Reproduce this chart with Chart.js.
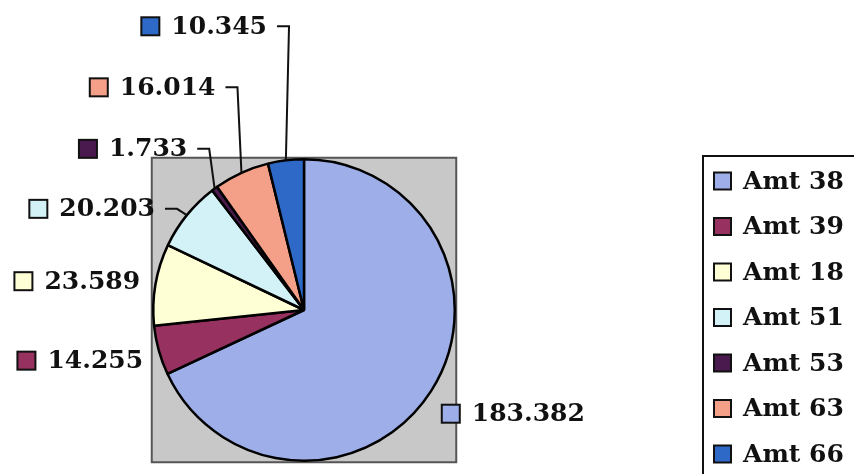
<!DOCTYPE html>
<html><head><meta charset="utf-8">
<script src="https://cdn.jsdelivr.net/npm/chart.js@4"></script>
<style>html,body{margin:0;padding:0;background:#fff}#wrap{width:854px;height:474px;position:relative}</style>
</head><body><div id="wrap"><canvas id="c" width="854" height="474"></canvas></div>
<script>
const categories = ['Amt 38','Amt 39','Amt 18','Amt 51','Amt 53','Amt 63','Amt 66'];
const values = [183.382, 14.255, 23.589, 20.203, 1.733, 16.014, 10.345];
const valueLabels = ['183.382','14.255','23.589','20.203','1.733','16.014','10.345'];
const colors = ['#9DAEE8','#97315F','#FFFFD6','#D3F2F8','#4A1A4E','#F4A088','#2F69C8'];

// layout of the value labels (marker left / centre y, in pie-radius units from the pie centre)
const labelDX = [0.914, -1.901, -1.921, -1.822, -1.493, -1.421, -1.079];
const labelDY = [0.688, 0.336, -0.191, -0.671, -1.069, -1.477, -1.882];
const labelLeader = [false, false, false, true, true, true, true];

const FONT = 'bold 25px "DejaVu Serif"';

const deco = {
  id: 'deco',
  beforeDatasetsDraw(chart) {
    const ctx = chart.ctx;
    const a = chart.getDatasetMeta(0).data[0];
    const r = a.outerRadius + 1.5;
    ctx.save();
    ctx.fillStyle = '#C8C8C8';
    ctx.fillRect(a.x - r, a.y - r, 2 * r, 2 * r);
    ctx.strokeStyle = '#555';
    ctx.lineWidth = 2;
    ctx.strokeRect(a.x - r, a.y - r, 2 * r, 2 * r);
    ctx.restore();
  },
  afterDatasetsDraw(chart) {
    const ctx = chart.ctx;
    const arcs = chart.getDatasetMeta(0).data;
    const cx = arcs[0].x, cy = arcs[0].y, R = arcs[0].outerRadius;
    ctx.save();
    ctx.font = FONT;
    ctx.textBaseline = 'middle';
    arcs.forEach((arc, i) => {
      const mx = cx + labelDX[i] * R;
      const my = cy + labelDY[i] * R;
      const s = 18;
      ctx.fillStyle = colors[i];
      ctx.fillRect(mx, my - s / 2, s, s);
      ctx.strokeStyle = '#111';
      ctx.lineWidth = 2;
      ctx.strokeRect(mx, my - s / 2, s, s);
      const tx = mx + s + 12;
      ctx.fillStyle = '#111';
      ctx.fillText(valueLabels[i], tx, my + 1);
      if (labelLeader[i]) {
        const w = ctx.measureText(valueLabels[i]).width;
        const mid = (arc.startAngle + arc.endAngle) / 2;
        const ex = arc.x + Math.cos(mid) * arc.outerRadius;
        const ey = arc.y + Math.sin(mid) * arc.outerRadius;
        const sx = tx + w + 10;
        ctx.beginPath();
        ctx.moveTo(sx, my);
        ctx.lineTo(sx + 12, my);
        ctx.lineTo(ex, ey);
        ctx.strokeStyle = '#111';
        ctx.lineWidth = 2;
        ctx.stroke();
      }
    });
    // legend
    ctx.strokeStyle = '#111';
    ctx.lineWidth = 2;
    ctx.strokeRect(703, 156, 200, 400);
    categories.forEach((c, i) => {
      const y = 181 + i * 45.5;
      ctx.fillStyle = colors[i];
      ctx.fillRect(714, y - 8.5, 17, 17);
      ctx.strokeStyle = '#111';
      ctx.lineWidth = 2;
      ctx.strokeRect(714, y - 8.5, 17, 17);
      ctx.fillStyle = '#111';
      ctx.fillText(c, 743, y + 1);
    });
    ctx.restore();
  }
};

new Chart(document.getElementById('c'), {
  type: 'pie',
  data: {
    labels: categories,
    datasets: [{
      data: values,
      backgroundColor: colors,
      borderColor: '#000',
      borderWidth: 2.5
    }]
  },
  options: {
    responsive: false,
    devicePixelRatio: 1,
    animation: false,
    layout: { padding: { left: 152, top: 158, right: 398, bottom: 12 } },
    plugins: { legend: { display: false }, tooltip: { enabled: false } }
  },
  plugins: [deco]
});
</script>
</body></html>
